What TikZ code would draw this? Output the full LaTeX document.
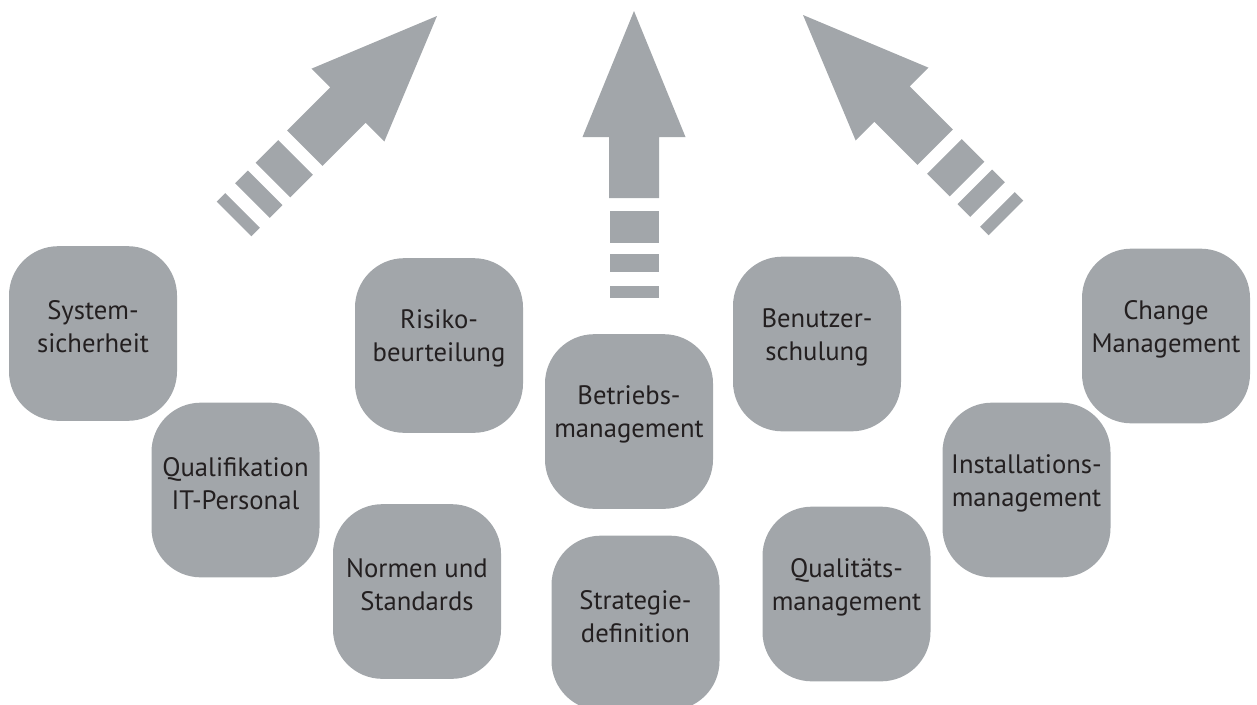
\documentclass[tikz,border=0pt]{standalone}
\usepackage{fontspec}
\setmainfont{PT Sans}
\usepackage{tikz}

\definecolor{boxgrey}{RGB}{162,166,170}
\definecolor{textdark}{RGB}{35,31,32}

\tikzset{
  card/.style={rounded corners=37pt, fill=boxgrey, minimum width=126pt, minimum height=131pt, inner sep=0pt},
  cardtext/.style={align=center, text=textdark, font=\fontsize{20}{24.75}\selectfont, inner sep=0pt}
}

% fat arrow with dashed tail, tip at #1, turned by #2
\newcommand{\fatarrow}[2]{%
  \begin{scope}[shift={#1}, rotate=#2]
    \fill[boxgrey] (0,0) -- (51.5,126) -- (25,126) -- (25,187) -- (-25,187) -- (-25,126) -- (-51.5,126) -- cycle;
    \fill[boxgrey] (-24.5,200) rectangle (24.5,232);
    \fill[boxgrey] (-24.5,243) rectangle (24.5,261);
    \fill[boxgrey] (-24.5,275) rectangle (24.5,287);
  \end{scope}}

\begin{document}
\begin{tikzpicture}[x=0.75pt,y=0.75pt,yscale=-1,xscale=1]
\useasboundingbox (0,0) rectangle (1257,704);
% Arrows
\fatarrow{(437,16)}{45}
\fatarrow{(634,11)}{0}
\fatarrow{(803,15)}{-45}
% Boxes
\node[card] (sys) at (93,333.5) {};
\node[card] (qual) at (235.5,490) {};
\node[card] (risk) at (439,345.5) {};
\node[card] (norm) at (417,591.5) {};
\node[card] (betr) at (629,421.5) {};
\node[card] (strat) at (635.5,623) {};
\node[card] (benu) at (817,344) {};
\node[card] (qualm) at (846.5,594) {};
\node[card] (inst) at (1026.5,490) {};
\node[card] (chg) at (1166,336) {};
% Text Node
\node[cardtext] (sys-t) at ([yshift=-5pt]sys.center) {System-\\sicherheit};
% Text Node
\node[cardtext] (qual-t) at ([yshift=-5pt]qual.center) {Qualifikation\\IT-Personal};
% Text Node
\node[cardtext] (risk-t) at ([yshift=-5pt]risk.center) {Risiko-\\beurteilung};
% Text Node
\node[cardtext] (norm-t) at ([yshift=-5pt]norm.center) {Normen und\\Standards};
% Text Node
\node[cardtext] (betr-t) at ([yshift=-5pt]betr.center) {Betriebs-\\management};
% Text Node
\node[cardtext] (strat-t) at ([yshift=-5pt]strat.center) {Strategie-\\definition};
% Text Node
\node[cardtext] (benu-t) at ([yshift=-5pt]benu.center) {Benutzer-\\schulung};
% Text Node
\node[cardtext] (qualm-t) at ([yshift=-5pt]qualm.center) {Qualitäts-\\management};
% Text Node
\node[cardtext] (inst-t) at ([yshift=-5pt]inst.center) {Installations-\\management};
% Text Node
\node[cardtext] (chg-t) at ([yshift=-5pt]chg.center) {Change\\Management};
\end{tikzpicture}
\end{document}
